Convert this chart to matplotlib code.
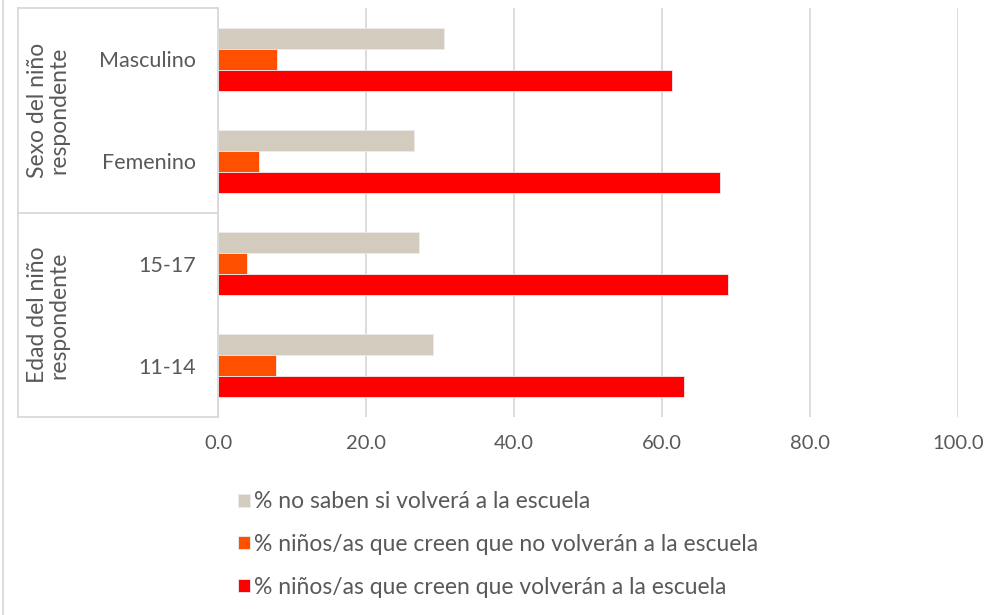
import numpy as np
import matplotlib.pyplot as plt
from matplotlib.lines import Line2D

# Data
categories = ['Masculino', 'Femenino', '15-17', '11-14']
no_saben = [30.5, 26.5, 27.1, 29.0]
no_volveran = [8.0, 5.6, 3.9, 7.9]
volveran = [61.4, 67.8, 68.9, 63.0]
series_labels = ['% no saben si volverá a la escuela',
                 '% niños/as que creen que no volverán a la escuela',
                 '% niños/as que creen que volverán a la escuela']
groups = ['Sexo del niño\nrespondente', 'Edad del niño\nrespondente']
xticks = [0, 20, 40, 60, 80, 100]

colors = ['#D2CBBE', '#FF5000', '#FF0000']
grey_txt = '#595959'
grid_c = '#D9D9D9'

plt.rcParams['font.family'] = ['Lato', 'DejaVu Sans']

W, H = 1005, 615
fig = plt.figure(figsize=(W / 100, H / 100), dpi=100)
ax = fig.add_axes([218 / W, 1 - 417 / H, (958 - 218) / W, (417 - 8) / H])

y = np.arange(len(categories))
bh = 0.205
for i, (vals, c, lab) in enumerate(zip([no_saben, no_volveran, volveran], colors, series_labels)):
    ax.barh(y + (i - 1) * bh, vals, height=bh, color=c, label=lab,
            edgecolor='#EDEDED', linewidth=0.6, zorder=3)

ax.set_ylim(len(categories) - 0.5, -0.5)
ax.set_xlim(0, 100)
ax.set_xticks(xticks)
ax.set_xticklabels([f'{v:.1f}' for v in xticks])
ax.set_yticks(y)
ax.set_yticklabels(categories)
ax.tick_params(axis='both', length=0, colors=grey_txt)
ax.tick_params(axis='x', pad=13, labelsize=14.5)
ax.tick_params(axis='y', pad=16, labelsize=15.5)
ax.grid(axis='x', color=grid_c, linewidth=1.3, zorder=0)
for s in ['top', 'right', 'bottom']:
    ax.spines[s].set_visible(False)
ax.spines['left'].set_color(grid_c)
ax.spines['left'].set_linewidth(1.3)
ax.spines['left'].set_zorder(4)


# group boxes on the left
def fline(x0, y0, x1, y1):
    fig.add_artist(Line2D([x0 / W, x1 / W], [1 - y0 / H, 1 - y1 / H],
                          color=grid_c, linewidth=1.3, transform=fig.transFigure))


fline(18, 8, 18, 417)
for yy in [8, 213, 417]:
    fline(18, yy, 218, yy)
fline(3, 0, 3, H)

fig.text(48 / W, 1 - 110 / H, groups[0], rotation=90, ha='center', va='center',
         fontsize=16.5, color=grey_txt, linespacing=1.05)
fig.text(48 / W, 1 - 315 / H, groups[1], rotation=90, ha='center', va='center',
         fontsize=16.5, color=grey_txt, linespacing=1.05)

fig.legend(loc='upper left', bbox_to_anchor=(229 / W, 1 - 482 / H), frameon=False,
           fontsize=16.5, labelcolor=grey_txt, handlelength=0.5, handleheight=0.5,
           handletextpad=0.2, labelspacing=0.95, borderaxespad=0)

fig.savefig('out.png', dpi=100)
